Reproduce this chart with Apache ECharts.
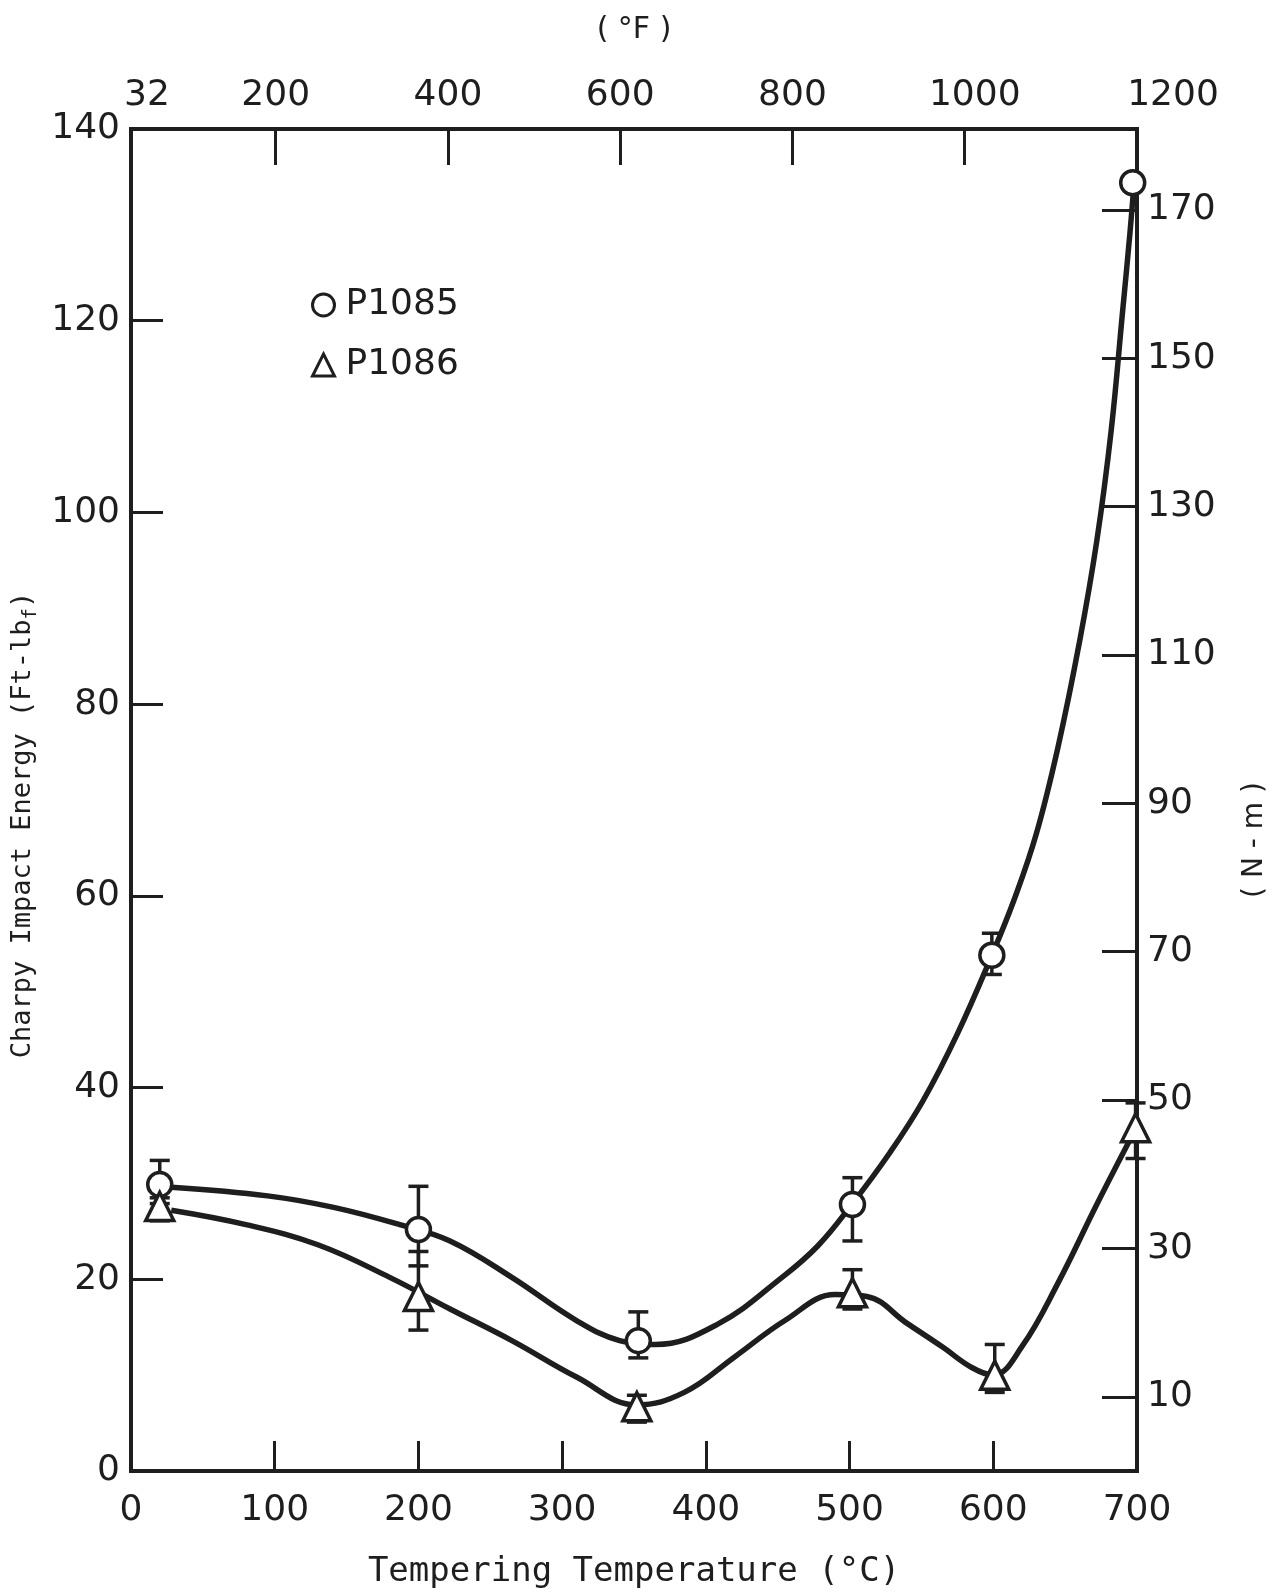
<!DOCTYPE html>
<html>
<head>
<meta charset="utf-8">
<script src="https://cdn.jsdelivr.net/npm/echarts@6.0.0/dist/echarts.min.js"></script>
<style>
  html, body { margin: 0; padding: 0; background: #fff; }
  #chart { width: 1282px; height: 1594px; }
</style>
</head>
<body>
<div id="chart"></div>
<script>
// measured points (deg C, ft-lbf) with error bar ends
const tempP1085 = [20, 200, 353, 502, 599, 697];
const energyP1085 = [29.9, 25.2, 13.6, 27.8, 53.8, 134.4];
const lowP1085 = [27.9, 21.4, 11.8, 24.0, 51.8, null];
const highP1085 = [32.4, 29.7, 16.6, 30.6, 56.1, null];

const tempP1086 = [20, 200, 352, 502, 601, 699];
const energyP1086 = [27.6, 18.2, 6.7, 18.6, 10.0, 35.8];
const lowP1086 = [26.1, 14.7, 5.1, 16.9, 8.2, 32.6];
const highP1086 = [28.5, 22.9, 7.9, 21.0, 13.2, 38.4];

// hand drawn trend curves
const curveP1085 = [
  [28, 29.6], [95, 28.7], [141, 27.5], [187, 25.7], [222, 24.0], [265, 20.2],
  [310, 15.7], [340, 13.6], [365, 13.2], [408, 15.3], [453, 20.2], [478, 23.5],
  [501, 27.7], [528, 33.2], [551, 38.6], [575, 45.6], [599, 53.8], [615, 59.8],
  [630, 66.5], [645, 75.5], [660, 86.5], [672, 97], [682, 108.5], [690, 121],
  [695, 129], [698, 134.4]
];
const curveP1086 = [
  [28, 27.2], [80, 25.7], [130, 23.6], [180, 20.2], [222, 16.9], [265, 13.6],
  [310, 9.8], [352, 6.9], [385, 8.2], [420, 11.9], [455, 15.7], [490, 18.4],
  [512, 18.2], [540, 15.4], [565, 12.9], [585, 10.8], [600, 10.0], [620, 13.0],
  [645, 19.6], [672, 27.8], [697, 35.1]
];

const fahrenheitLabels = [32, 200, 400, 600, 800, 1000, 1200];
const fahrenheitTicks = [200, 400, 600, 800, 1000];
const newtonMeterTicks = [10, 30, 50, 70, 90, 110, 130, 150, 170];

const ink = '#1e1e1e';
const numFont = 'DejaVu Sans';
const typeFont = 'DejaVu Sans Mono';

const zip = (xs, ys) => xs.map((x, i) => [x, ys[i]]);
const errRows = (xs, lo, hi) => xs.map((x, i) => [x, lo[i], hi[i]]).filter(d => d[1] != null);

function renderErr(params, api) {
  const x = api.value(0);
  const lo = api.coord([x, api.value(1)]);
  const hi = api.coord([x, api.value(2)]);
  const w = 10;
  const st = { stroke: ink, lineWidth: 3.5 };
  return {
    type: 'group',
    children: [
      { type: 'line', shape: { x1: lo[0], y1: lo[1], x2: hi[0], y2: hi[1] }, style: st },
      { type: 'line', shape: { x1: lo[0] - w, y1: lo[1], x2: lo[0] + w, y2: lo[1] }, style: st },
      { type: 'line', shape: { x1: hi[0] - w, y1: hi[1], x2: hi[0] + w, y2: hi[1] }, style: st }
    ]
  };
}

// the top scale labels sit a little right of their ticks in the original
function fLabel(v) {
  if (v === 32) return '{a|32}';
  if (v === 1200) return '{c|1200}';
  if (v === 1000) return '{b|1000}';
  return String(v);
}

const axisLine = () => ({ show: true, onZero: false, lineStyle: { color: ink, width: 4, cap: 'square' } });
const labelStyle = { color: ink, fontFamily: numFont, fontSize: 36 };

const chart = echarts.init(document.getElementById('chart'));
chart.setOption({
  backgroundColor: '#fff',
  animation: false,
  grid: { left: 131, right: 145, top: 129, bottom: 120 },
  legend: {
    data: [{ name: 'P1085', icon: 'circle' }, { name: 'P1086', icon: 'triangle' }],
    orient: 'vertical',
    left: 306,
    top: 282,
    itemWidth: 22,
    itemHeight: 22,
    itemGap: 24,
    itemStyle: { color: '#fff', borderColor: ink, borderWidth: 3 },
    textStyle: { color: ink, fontFamily: numFont, fontSize: 36, padding: [0, 0, 0, 6] }
  },
  xAxis: [
    {
      type: 'value', position: 'bottom', min: 0, max: 700, interval: 100,
      axisLine: axisLine(),
      axisTick: { inside: true, length: 30, lineStyle: { color: ink, width: 3 } },
      splitLine: { show: false },
      axisLabel: Object.assign({ margin: 22 }, labelStyle),
      name: 'Tempering Temperature (°C)', nameLocation: 'middle', nameGap: 84,
      nameTextStyle: { color: ink, fontFamily: typeFont, fontSize: 34 }
    },
    {
      type: 'value', position: 'top', min: 32, max: 1200,
      axisLine: axisLine(),
      axisTick: { inside: true, length: 36, customValues: fahrenheitTicks, lineStyle: { color: ink, width: 3 } },
      splitLine: { show: false },
      axisLabel: Object.assign({
        margin: 15, customValues: fahrenheitLabels, formatter: fLabel,
        rich: {
          a: { fontFamily: numFont, fontSize: 36, color: ink, padding: [0, 0, 0, 32] },
          b: { fontFamily: numFont, fontSize: 36, color: ink, padding: [0, 0, 0, 20] },
          c: { fontFamily: numFont, fontSize: 36, color: ink, padding: [0, 0, 0, 72] }
        }
      }, labelStyle),
      name: '( °F )', nameLocation: 'middle', nameGap: 84,
      nameTextStyle: { color: ink, fontFamily: numFont, fontSize: 30 }
    }
  ],
  yAxis: [
    {
      type: 'value', position: 'left', min: 0, max: 140, interval: 20,
      axisLine: axisLine(),
      axisTick: { inside: true, length: 32, lineStyle: { color: ink, width: 3 } },
      splitLine: { show: false },
      axisLabel: Object.assign({ margin: 11 }, labelStyle),
      name: 'Charpy Impact Energy (Ft-lb{s|f})', nameLocation: 'middle', nameGap: 86, nameRotate: 90,
      nameTextStyle: {
        color: ink, fontFamily: typeFont, fontSize: 27, padding: [0, 50, 0, 0],
        rich: { s: { fontFamily: typeFont, fontSize: 19, color: ink, padding: [16, 0, 0, 0] } }
      }
    },
    {
      type: 'value', position: 'right', min: 0, max: 180.9,
      axisLine: axisLine(),
      axisTick: { inside: true, length: 35, customValues: newtonMeterTicks, lineStyle: { color: ink, width: 3 } },
      splitLine: { show: false },
      axisLabel: Object.assign({ margin: 10, customValues: newtonMeterTicks }, labelStyle),
      name: '( N - m )', nameLocation: 'middle', nameGap: 104, nameRotate: 90,
      nameTextStyle: { color: ink, fontFamily: numFont, fontSize: 28, padding: [0, 80, 0, 0] }
    }
  ],
  series: [
    {
      name: 'P1085 curve', type: 'line', data: curveP1085, smooth: 0.4, showSymbol: false,
      lineStyle: { color: ink, width: 5.5 }, z: 2, silent: true
    },
    {
      name: 'P1086 curve', type: 'line', data: curveP1086, smooth: 0.4, showSymbol: false,
      lineStyle: { color: ink, width: 5.5 }, z: 2, silent: true
    },
    {
      name: 'P1085 err', type: 'custom', data: errRows(tempP1085, lowP1085, highP1085),
      encode: { x: 0, y: [1, 2] }, renderItem: renderErr, z: 3, silent: true
    },
    {
      name: 'P1086 err', type: 'custom', data: errRows(tempP1086, lowP1086, highP1086),
      encode: { x: 0, y: [1, 2] }, renderItem: renderErr, z: 3, silent: true
    },
    {
      name: 'P1085', type: 'scatter', data: zip(tempP1085, energyP1085), symbol: 'circle', symbolSize: 24,
      itemStyle: { color: '#fff', borderColor: ink, borderWidth: 3.5, opacity: 1 }, z: 4, clip: false
    },
    {
      name: 'P1086', type: 'scatter', data: zip(tempP1086, energyP1086), symbol: 'triangle', symbolSize: 28,
      itemStyle: { color: '#fff', borderColor: ink, borderWidth: 3.5, opacity: 1 }, z: 4, clip: false
    }
  ]
});
</script>
</body>
</html>
